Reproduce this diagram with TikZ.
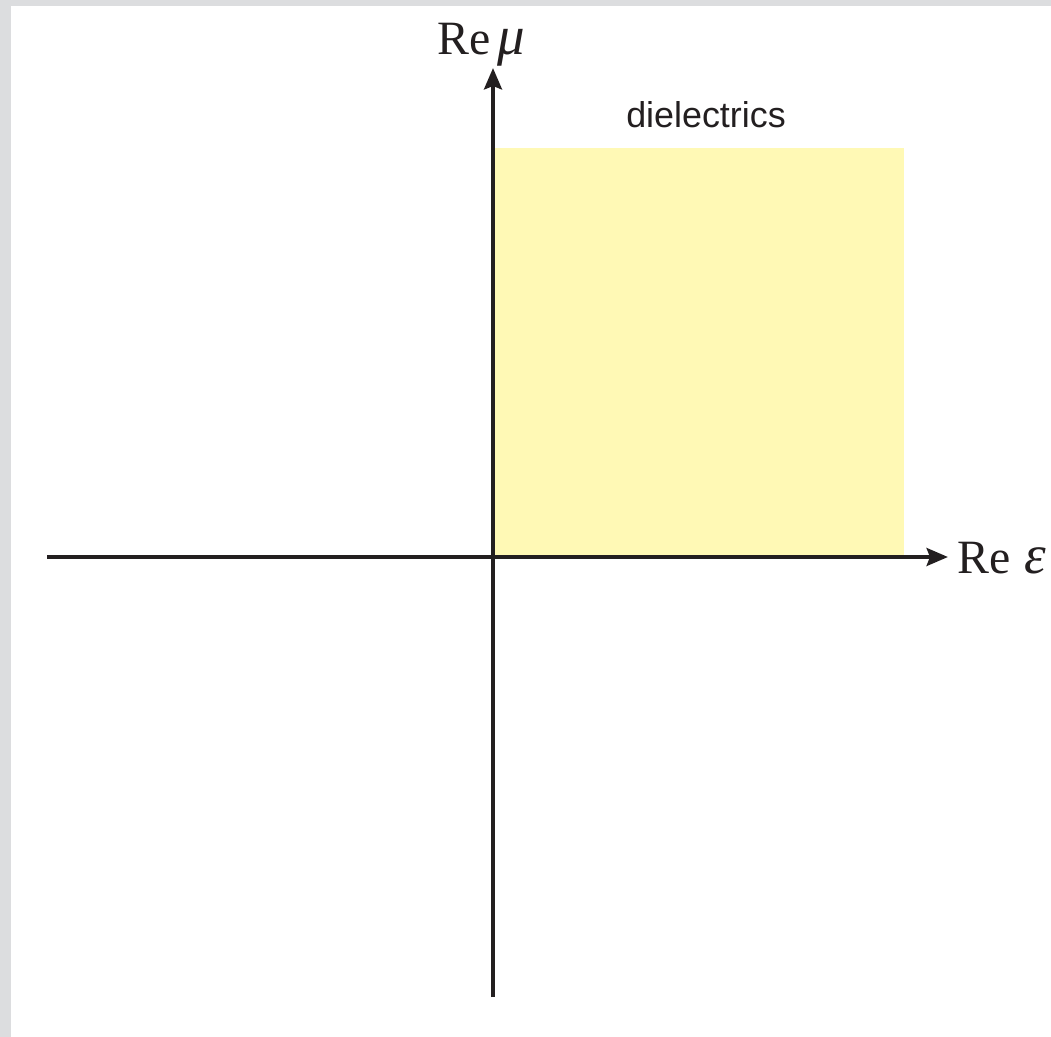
\documentclass[tikz,border=0pt]{standalone}
\usepackage{fontspec}
\usepackage{tikz}
\usetikzlibrary{arrows.meta}
\newfontfamily\labelfont{Liberation Sans}
\newfontfamily\axisfont{Liberation Serif}
\definecolor{pageframe}{RGB}{220, 221, 223}
\definecolor{dielyellow}{RGB}{255, 249, 181}
\definecolor{axisdark}{RGB}{35, 31, 32}
\newcommand{\greekbig}[1]{{\fontsize{39}{42}\selectfont\textit{#1}}}

\begin{document}
\begin{tikzpicture}[x=0.025cm, y=-0.025cm]
    % Marco gris y fondo
    \fill[pageframe] (0,0) rectangle (1051,1037);
    \fill[white] (11,6) rectangle (1051,1037);
    \useasboundingbox (0,0) rectangle (1051,1037);

    % Puntos de los ejes
    \coordinate (O) at (493, 557);
    \coordinate (Xl) at (47, 557);
    \coordinate (Xr) at (948, 557);
    \coordinate (Yb) at (493, 997);
    \coordinate (Yt) at (493, 68);

    % Cuadrante de los dielectricos
    \fill[dielyellow] (O) rectangle (904, 148);
    \node[font=\labelfont\fontsize{25.5}{29}\selectfont, text=axisdark, anchor=base] (diel) at (706, 128) {dielectrics};

    % Ejes
    \draw[-{Stealth[length=0.53cm, width=0.44cm, inset=0.08cm]}, axisdark, line width=3.2pt] (Xl) -- (Xr);
    \draw[-{Stealth[length=0.53cm, width=0.44cm, inset=0.08cm]}, axisdark, line width=3.2pt] (Yb) -- (Yt);

    % Etiquetas de los ejes
    \node[font=\axisfont\fontsize{34}{38}\selectfont, text=axisdark, anchor=base west, inner sep=0pt] (remu) at (437, 55) {Re\kern5pt\greekbig{μ}};
    \node[font=\axisfont\fontsize{34}{38}\selectfont, text=axisdark, anchor=base west, inner sep=0pt] (reeps) at (957, 573) {Re\kern10pt\greekbig{ε}};
\end{tikzpicture}
\end{document}
